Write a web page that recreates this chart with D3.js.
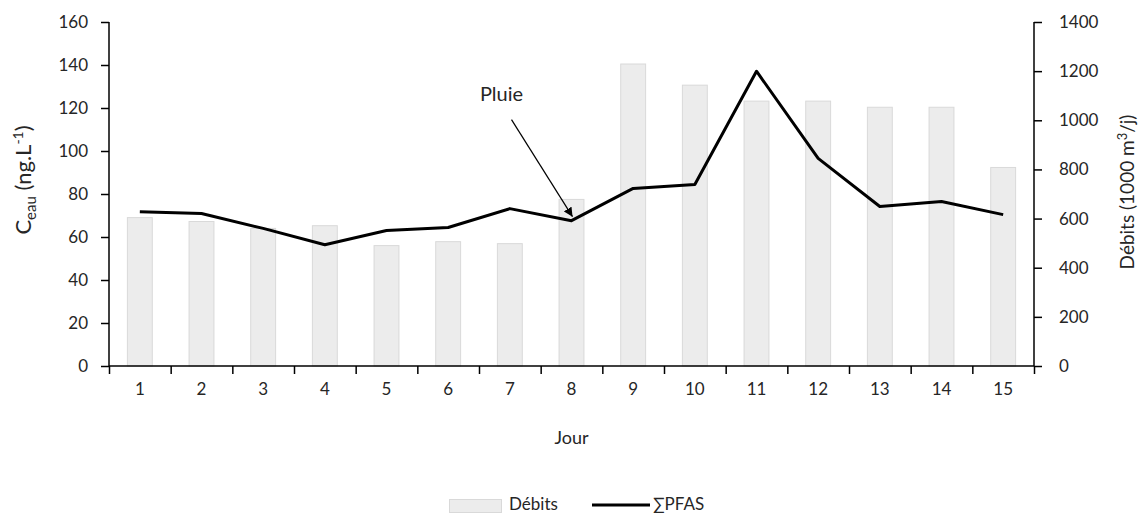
<!DOCTYPE html>
<html><head><meta charset="utf-8">
<script src="https://cdn.jsdelivr.net/npm/d3@7"></script>
<style>
body{margin:0;background:#fff;}
text{font-family:Lato,"Open Sans",sans-serif;fill:#262626;}
</style></head>
<body><svg id="c" width="1148" height="515"></svg>
<script>
const days = ["1","2","3","4","5","6","7","8","9","10","11","12","13","14","15"];
const debits = [604,588,560,571,490,506,498,678,1229,1143,1078,1078,1053,1053,808];
const pfas = [71.8,70.9,64.0,56.4,63.0,64.4,73.2,67.6,82.6,84.4,137.1,96.6,74.2,76.5,70.4];
const leftTicks = [0,20,40,60,80,100,120,140,160];
const rightTicks = [0,200,400,600,800,1000,1200,1400];
const annotation = {label:"Pluie", day:"8", value:67.6};

const svg = d3.select("#c");
const m = {l:109, r:1034, t:22, b:366};
const x = d3.scaleBand().domain(days).range([m.l,m.r]).paddingInner(0.58).paddingOuter(0.29);
const xEdge = d3.scaleLinear().domain([0,days.length]).range([m.l,m.r]);
const yL = d3.scaleLinear().domain([0,160]).range([m.b,m.t]);
const yR = d3.scaleLinear().domain([0,1400]).range([m.b,m.t]);

// bars
svg.append("g").selectAll("rect").data(debits).join("rect")
  .attr("x",(d,i)=>x(days[i])+0.5).attr("y",d=>yR(d))
  .attr("width",x.bandwidth()-1).attr("height",d=>m.b-yR(d))
  .attr("fill","#ececec").attr("stroke","#d9d9d9").attr("stroke-width",1);

// line
const line = d3.line().x((d,i)=>x(days[i])+x.bandwidth()/2).y(d=>yL(d));
svg.append("path").datum(pfas).attr("d",line).attr("fill","none")
  .attr("stroke","#000").attr("stroke-width",3).attr("stroke-linejoin","round");

// axes
const fs = "17px";
const gL = svg.append("g").attr("transform",`translate(${m.l},0)`)
  .call(d3.axisLeft(yL).tickValues(leftTicks).tickSize(8).tickPadding(13));
const gR = svg.append("g").attr("transform",`translate(${m.r},0)`)
  .call(d3.axisRight(yR).tickValues(rightTicks).tickSize(8).tickPadding(17).tickFormat(d3.format("d")));
const gX = svg.append("g").attr("transform",`translate(0,${m.b})`)
  .call(d3.axisBottom(xEdge).ticks(days.length).tickFormat("").tickSize(8));
const gXL = svg.append("g").attr("transform",`translate(0,${m.b})`)
  .call(d3.axisBottom(x).tickSize(0).tickPadding(17));
gXL.select(".domain").remove();
[gL,gR,gX].forEach(g=>{
  g.select(".domain").attr("stroke","#000").attr("stroke-width",1.5);
  g.selectAll(".tick line").attr("stroke","#000").attr("stroke-width",1.5);
});
gL.select(".domain").attr("d",`M0,${m.t}V${m.b}`);
gR.select(".domain").attr("d",`M0,${m.t}V${m.b}`);
gX.select(".domain").attr("d",`M${m.l},0H${m.r}`);
[gL,gR,gXL].forEach(g=>g.selectAll("text").style("font-size",fs).style("fill","#262626"));

// axis titles
svg.append("text").attr("x",(m.l+m.r)/2).attr("y",444).attr("text-anchor","middle")
  .style("font-size","18px").text("Jour");
const tl = svg.append("text").attr("transform","translate(31,180) rotate(-90)")
  .attr("text-anchor","middle").style("font-size","22px");
tl.append("tspan").text("C");
tl.append("tspan").attr("dy",5).style("font-size","15px").text("eau");
tl.append("tspan").attr("dy",-5).text(" (ng.L");
tl.append("tspan").attr("dy",-8).style("font-size","14px").text("-1");
tl.append("tspan").attr("dy",8).text(")");
const tr = svg.append("text").attr("transform","translate(1134,192) rotate(-90)")
  .attr("text-anchor","middle").style("font-size","19px");
tr.append("tspan").text("Débits (1000 m");
tr.append("tspan").attr("dy",-7).style("font-size","13px").text("3");
tr.append("tspan").attr("dy",7).text("/j)");

// annotation
const defs = svg.append("defs");
defs.append("marker").attr("id","ah").attr("viewBox","0 0 10 10").attr("refX",10).attr("refY",5)
  .attr("markerWidth",9).attr("markerHeight",9).attr("markerUnits","userSpaceOnUse").attr("orient","auto")
  .append("path").attr("d","M0,0L10,5L0,10z").attr("fill","#000");
const ax = x(annotation.day)+x.bandwidth()/2, ay = yL(annotation.value);
svg.append("text").attr("x",ax-70).attr("y",ay-120).attr("text-anchor","middle")
  .style("font-size","20px").text(annotation.label);
svg.append("line").attr("x1",ax-60).attr("y1",ay-101).attr("x2",ax+1).attr("y2",ay-4)
  .attr("stroke","#000").attr("stroke-width",1.2).attr("marker-end","url(#ah)");

// legend
const lg = svg.append("g");
lg.append("rect").attr("x",449.5).attr("y",499.5).attr("width",52).attr("height",13)
  .attr("fill","#ececec").attr("stroke","#d9d9d9");
lg.append("text").attr("x",509).attr("y",510).style("font-size","17px").text("Débits");
lg.append("line").attr("x1",592).attr("x2",650).attr("y1",505).attr("y2",505)
  .attr("stroke","#000").attr("stroke-width",3);
lg.append("text").attr("x",653).attr("y",510).style("font-size","17px").text("∑PFAS");
</script></body></html>
